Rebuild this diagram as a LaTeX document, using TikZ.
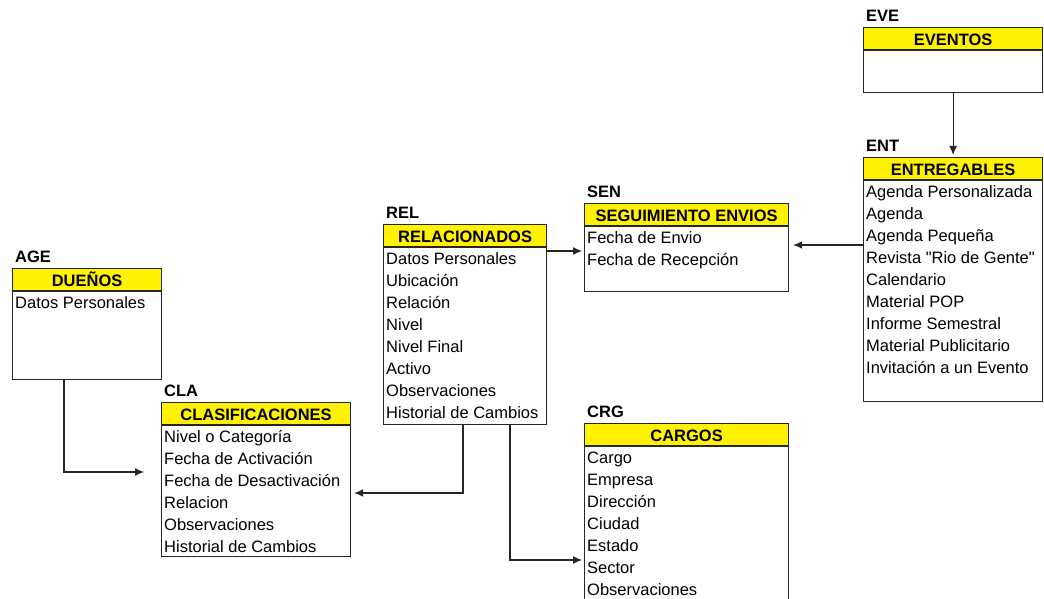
\documentclass[tikz,border=0pt]{standalone}
\usepackage{fontspec}
\setmainfont{Liberation Sans}
\usetikzlibrary{arrows.meta}

\tikzset{
  etiqueta/.style={anchor=south west, inner sep=0pt, font=\fontsize{16.5}{20}\selectfont\bfseries},
  cabecera/.style={anchor=north west, draw=black!85, line width=1.2pt, fill=yellow, minimum height=22pt, inner sep=0pt, text height=14pt, text depth=1pt, font=\fontsize{16.5}{20}\selectfont\bfseries},
  cuerpo/.style={anchor=north west, draw=black!85, line width=1.2pt, fill=white, inner sep=0pt},
  fila/.style={anchor=west, inner sep=0pt, text height=14pt, text depth=2pt, font=\fontsize{16.5}{20}\selectfont},
  flecha/.style={line width=1.1pt, draw=black!85, -{Latex[length=9pt,width=8pt]}}
}

\begin{document}
\begin{tikzpicture}[x=1pt, y=-1pt]
			\clip (0,0) rectangle (1044,599);

			% AGE
			\node[cabecera, minimum width=149pt] (AGEh) at (12,268) {DUEÑOS};
			\node[cuerpo, minimum width=149pt, minimum height=88pt] (AGEb) at (AGEh.south west) {};
			\node[etiqueta] (AGEl) at ([xshift=3pt,yshift=5pt]AGEh.north west) {AGE};
			\foreach \t [count=\i] in {Datos Personales}
				\node[fila] (AGE-\i) at ([xshift=3pt,yshift={(11-22*\i)*1pt}]AGEb.north west) {\t};

			% CLA
			\node[cabecera, minimum width=189pt] (CLAh) at (161,402) {CLASIFICACIONES};
			\node[cuerpo, minimum width=189pt, minimum height=131pt] (CLAb) at (CLAh.south west) {};
			\node[etiqueta] (CLAl) at ([xshift=3pt,yshift=5pt]CLAh.north west) {CLA};
			\foreach \t [count=\i] in {Nivel o Categoría, Fecha de Activación, Fecha de Desactivación, Relacion, Observaciones, Historial de Cambios}
				\node[fila] (CLA-\i) at ([xshift=3pt,yshift={(11-22*\i)*1pt}]CLAb.north west) {\t};

			% REL
			\node[cabecera, minimum width=163pt] (RELh) at (383,224) {RELACIONADOS};
			\node[cuerpo, minimum width=163pt, minimum height=177pt] (RELb) at (RELh.south west) {};
			\node[etiqueta] (RELl) at ([xshift=3pt,yshift=5pt]RELh.north west) {REL};
			\foreach \t [count=\i] in {Datos Personales, Ubicación, Relación, Nivel, Nivel Final, Activo, Observaciones, Historial de Cambios}
				\node[fila] (REL-\i) at ([xshift=3pt,yshift={(11-22*\i)*1pt}]RELb.north west) {\t};

			% SEN
			\node[cabecera, minimum width=204pt] (SENh) at (584,203) {SEGUIMIENTO ENVIOS};
			\node[cuerpo, minimum width=204pt, minimum height=65pt] (SENb) at (SENh.south west) {};
			\node[etiqueta] (SENl) at ([xshift=3pt,yshift=5pt]SENh.north west) {SEN};
			\foreach \t [count=\i] in {Fecha de Envio, Fecha de Recepción}
				\node[fila] (SEN-\i) at ([xshift=3pt,yshift={(11-22*\i)*1pt}]SENb.north west) {\t};

			% CRG
			\node[cabecera, minimum width=204pt] (CRGh) at (584,423) {CARGOS};
			\node[cuerpo, minimum width=204pt, minimum height=170pt] (CRGb) at (CRGh.south west) {};
			\node[etiqueta] (CRGl) at ([xshift=3pt,yshift=5pt]CRGh.north west) {CRG};
			\foreach \t [count=\i] in {Cargo, Empresa, Dirección, Ciudad, Estado, Sector, Observaciones}
				\node[fila] (CRG-\i) at ([xshift=3pt,yshift={(11-22*\i)*1pt}]CRGb.north west) {\t};

			% EVE
			\node[cabecera, minimum width=179pt] (EVEh) at (863,27) {EVENTOS};
			\node[cuerpo, minimum width=179pt, minimum height=42pt] (EVEb) at (EVEh.south west) {};
			\node[etiqueta] (EVEl) at ([xshift=3pt,yshift=5pt]EVEh.north west) {EVE};

			% ENT
			\node[cabecera, minimum width=179pt] (ENTh) at (863,157) {ENTREGABLES};
			\node[cuerpo, minimum width=179pt, minimum height=221pt] (ENTb) at (ENTh.south west) {};
			\node[etiqueta] (ENTl) at ([xshift=3pt,yshift=5pt]ENTh.north west) {ENT};
			\foreach \t [count=\i] in {Agenda Personalizada, Agenda, Agenda Pequeña, Revista \textquotedbl Rio de Gente\textquotedbl, Calendario, Material POP, Informe Semestral, Material Publicitario, Invitación a un Evento}
				\node[fila] (ENT-\i) at ([xshift=3pt,yshift={(11-22*\i)*1pt}]ENTb.north west) {\t};

			% Relaciones
			\draw[flecha] (AGEb.south -| 64,0) |- ([xshift=-17pt]CLAb.west |- 0,472);
			\draw[flecha] (RELb.south -| 463,0) |- ([xshift=3pt]CLAb.east |- 0,493);
			\draw[flecha] (RELb.south -| 510,0) |- ([xshift=-2pt]CRGb.west |- 0,560);
			\draw[flecha] (RELb.east |- 0,251) -- ([xshift=-2pt]SENb.west |- 0,251);
			\draw[flecha] (ENTb.west |- 0,245) -- ([xshift=4pt]SENb.east |- 0,245);
			\draw[flecha] (EVEb.south) -- ([yshift=2pt]ENTh.north);

		\end{tikzpicture}
\end{document}
